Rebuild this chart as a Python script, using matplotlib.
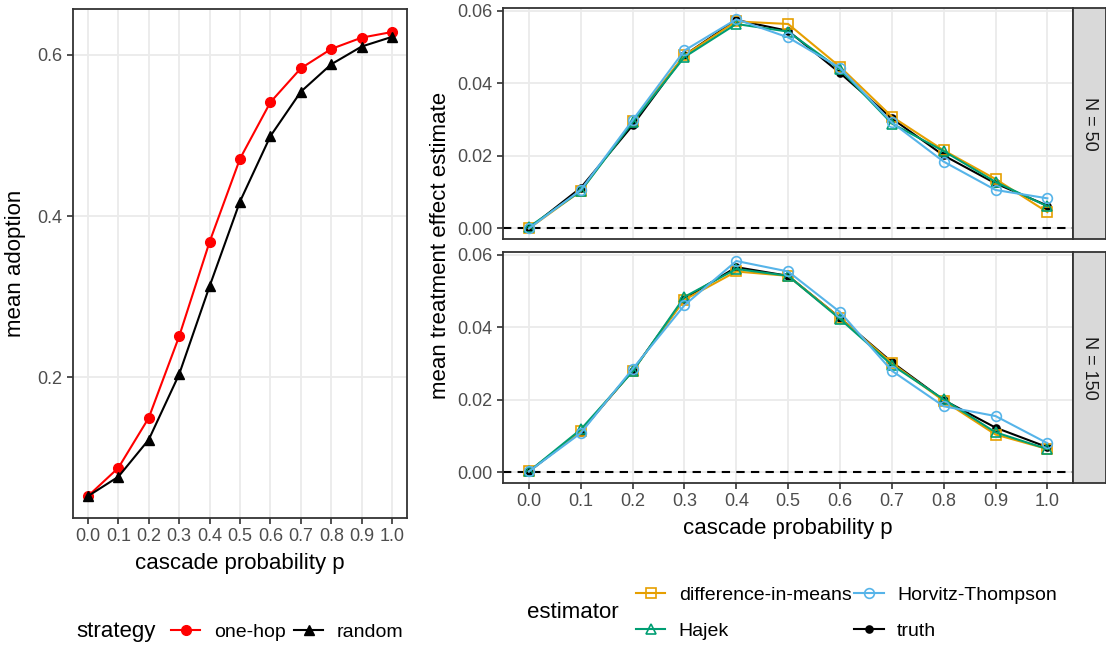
import numpy as np
import matplotlib
matplotlib.use('Agg')
import matplotlib.pyplot as plt
from matplotlib.lines import Line2D

# Daten
p = [0.0, 0.1, 0.2, 0.3, 0.4, 0.5, 0.6, 0.7, 0.8, 0.9, 1.0]
p_labels = ['0.0', '0.1', '0.2', '0.3', '0.4', '0.5', '0.6', '0.7', '0.8', '0.9', '1.0']

onehop = [0.053, 0.088, 0.150, 0.251, 0.368, 0.471, 0.541, 0.583, 0.607, 0.621, 0.628]
random_ = [0.053, 0.077, 0.123, 0.204, 0.313, 0.418, 0.499, 0.554, 0.588, 0.610, 0.622]

# N = 50
truth_50 = [0.0000, 0.0112, 0.0284, 0.0477, 0.0574, 0.0544, 0.0428, 0.0303, 0.0201, 0.0124, 0.0063]
dim_50 = [0.0000, 0.0103, 0.0295, 0.0477, 0.0570, 0.0563, 0.0445, 0.0308, 0.0215, 0.0136, 0.0045]
hajek_50 = [0.0004, 0.0103, 0.0292, 0.0472, 0.0563, 0.0542, 0.0438, 0.0289, 0.0213, 0.0128, 0.0061]
ht_50 = [0.0000, 0.0106, 0.0298, 0.0490, 0.0576, 0.0526, 0.0442, 0.0292, 0.0184, 0.0106, 0.0083]

# N = 150
truth_150 = [0.0002, 0.0112, 0.0280, 0.0479, 0.0566, 0.0542, 0.0426, 0.0304, 0.0199, 0.0123, 0.0069]
dim_150 = [0.0002, 0.0113, 0.0280, 0.0476, 0.0554, 0.0542, 0.0426, 0.0301, 0.0197, 0.0104, 0.0064]
hajek_150 = [0.0002, 0.0118, 0.0278, 0.0484, 0.0561, 0.0542, 0.0423, 0.0296, 0.0201, 0.0110, 0.0064]
ht_150 = [0.0002, 0.0108, 0.0285, 0.0461, 0.0583, 0.0554, 0.0442, 0.0280, 0.0182, 0.0155, 0.0080]

estimators = ['difference-in-means', 'Hajek', 'Horvitz-Thompson', 'truth']
est_colors = {'difference-in-means': '#E69F00', 'Hajek': '#009E73',
              'Horvitz-Thompson': '#56B4E9', 'truth': 'black'}
est_markers = {'difference-in-means': 's', 'Hajek': '^', 'Horvitz-Thompson': 'o', 'truth': 'o'}

plt.rcParams['font.family'] = ['Liberation Sans', 'DejaVu Sans']

W, H = 1106, 648
fig = plt.figure(figsize=(W / 100, H / 100), dpi=100)


def box(x0, y0, x1, y1):
    # Pixelkoordinaten (oben links) -> Figurenkoordinaten
    return [x0 / W, 1 - y1 / H, (x1 - x0) / W, (y1 - y0) / H]


def style_axes(ax):
    ax.set_facecolor('white')
    for s in ax.spines.values():
        s.set_color('#333333')
        s.set_linewidth(1.3)
    ax.grid(True, color='#EBEBEB', linewidth=1.3)
    ax.set_axisbelow(True)
    ax.tick_params(colors='#333333', labelcolor='#4D4D4D', labelsize=13,
                   length=4, width=1.2)


# Linkes Panel
ax1 = fig.add_axes(box(72.7, 8.9, 407.3, 517.7))
style_axes(ax1)
ax1.plot(p, onehop, color='#FF0000', marker='o', markersize=7, linewidth=1.5)
ax1.plot(p, random_, color='black', marker='^', markersize=7, linewidth=1.5)
ax1.set_xlim(-0.05, 1.05)
ax1.set_ylim(0.0263, 0.6566)
ax1.set_xticks(p)
ax1.set_xticklabels(p_labels)
ax1.set_yticks([0.2, 0.4, 0.6])
ax1.set_yticklabels(['0.2', '0.4', '0.6'])
ax1.set_xlabel('cascade probability p', fontsize=16, color='black', labelpad=6)
ax1.set_ylabel('mean adoption', fontsize=16, color='black', labelpad=8)

# Rechte Panels
panels = [
    ('N = 50', (8, 239), truth_50, dim_50, hajek_50, ht_50),
    ('N = 150', (252.3, 482.7), truth_150, dim_150, hajek_150, ht_150),
]
for i, (lab, (t, b), tr, dm, hj, ht) in enumerate(panels):
    ax = fig.add_axes(box(503, t, 1073.3, b))
    style_axes(ax)
    ax.axhline(0, color='black', linestyle=(0, (4, 3)), linewidth=1.5, zorder=1.5)
    series = {'truth': tr, 'difference-in-means': dm, 'Hajek': hj, 'Horvitz-Thompson': ht}
    for name in ['truth', 'difference-in-means', 'Hajek', 'Horvitz-Thompson']:
        filled = name == 'truth'
        ax.plot(p, series[name], color=est_colors[name], marker=est_markers[name],
                markersize=5 if filled else 7, linewidth=1.5,
                markerfacecolor=est_colors[name] if filled else 'none',
                markeredgewidth=1.2)
    ax.set_xlim(-0.05, 1.05)
    ax.set_ylim(-0.0029, 0.0607)
    ax.set_xticks(p)
    ax.set_yticks([0.0, 0.02, 0.04, 0.06])
    ax.set_yticklabels(['0.00', '0.02', '0.04', '0.06'])
    if i == 0:
        ax.set_xticklabels([])
        ax.tick_params(axis='x', length=0)
    else:
        ax.set_xticklabels(p_labels)
        ax.set_xlabel('cascade probability p', fontsize=16, color='black', labelpad=6)

    # Streifen rechts
    st = fig.add_axes(box(1073.3, t, 1106, b))
    st.set_facecolor('#D9D9D9')
    st.set_xticks([])
    st.set_yticks([])
    for s in st.spines.values():
        s.set_color('#333333')
        s.set_linewidth(1.3)
    st.text(0.5, 0.5, lab, rotation=270, ha='center', va='center',
            fontsize=13, color='#1A1A1A', transform=st.transAxes)

fig.text(440 / W, 1 - 245 / H, 'mean treatment effect estimate', rotation=90,
         ha='center', va='center', fontsize=16)

# Legende strategy
fig.text(76 / W, 1 - 632 / H, 'strategy', ha='left', va='center', fontsize=16)
h_strat = [Line2D([], [], color='#FF0000', marker='o', markersize=7, linewidth=1.5),
           Line2D([], [], color='black', marker='^', markersize=7, linewidth=1.5)]
fig.legend(h_strat, ['one-hop', 'random'], loc='center left',
           bbox_to_anchor=(171 / W, 1 - 632 / H), ncol=2, frameon=False,
           fontsize=14, handlelength=1.5, handletextpad=0.7, columnspacing=0.45,
           borderpad=0, borderaxespad=0)

# Legende estimator
fig.text(527 / W, 1 - 613 / H, 'estimator', ha='left', va='center', fontsize=16)
h_est = []
for name in estimators:
    filled = name == 'truth'
    h_est.append(Line2D([], [], color=est_colors[name], marker=est_markers[name],
                        markersize=5 if filled else 7, linewidth=1.5,
                        markerfacecolor=est_colors[name] if filled else 'none',
                        markeredgewidth=1.2))
fig.legend(h_est, estimators, loc='center left',
           bbox_to_anchor=(636 / W, 1 - 613 / H), ncol=2, frameon=False,
           fontsize=14, handlelength=1.5, handletextpad=0.7, columnspacing=0.15,
           labelspacing=0.95, borderpad=0, borderaxespad=0)

fig.savefig('out.png', dpi=100)
